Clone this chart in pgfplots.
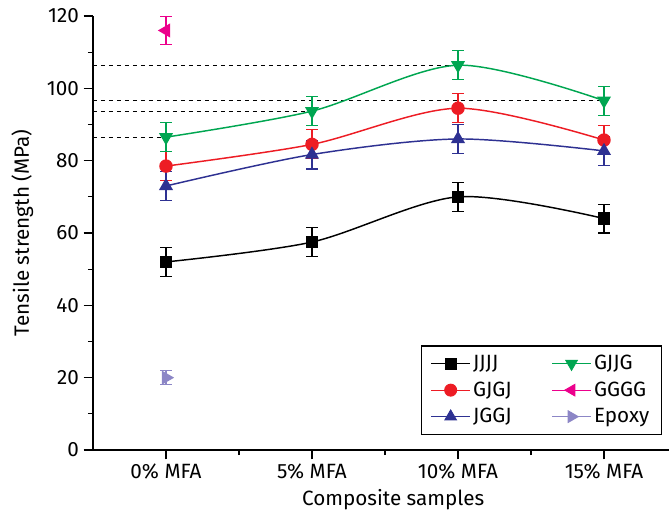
\documentclass[border=0pt]{standalone}
\usepackage{fontspec}
\setmainfont{Fira Sans}
\usepackage{pgfplots}
\pgfplotsset{compat=1.18}
\definecolor{cblack}{RGB}{0,0,0}
\definecolor{cred}{RGB}{237,28,36}
\definecolor{cblue}{RGB}{46,49,146}
\definecolor{cgreen}{RGB}{0,166,81}
\definecolor{cpink}{RGB}{236,0,140}
\definecolor{cpurple}{RGB}{140,134,198}
\newcommand{\fs}{\fontsize{15.5}{18}\selectfont}
\begin{document}
\begin{tikzpicture}
\useasboundingbox (-69.75pt,-51.75pt) rectangle (432pt,337.5pt);
\begin{axis}[
  at={(0pt,0pt)}, anchor=south west,
  scale only axis, width=438pt, height=325.5pt,
  xmin=-0.5, xmax=3.5, ymin=0, ymax=120,
  axis lines*=left,
  axis line style={line width=0.9pt},
  tick align=outside,
  every tick/.style={black, line width=0.9pt},
  major tick length=7pt, minor tick length=3.75pt,
  xtick={0,1,2,3},
  xticklabels={0\% MFA, 5\% MFA, 10\% MFA, 15\% MFA},
  minor xtick={0.5,1.5,2.5},
  ytick={0,20,...,120},
  minor ytick={10,30,...,110},
  /pgf/number format/assume math mode=true,
  tick label style={font=\fs},
  every axis y label/.style={at={(axis description cs:-0.121,0.5)}, rotate=90, anchor=center},
  every axis x label/.style={at={(axis description cs:0.514,0)}, anchor=center, yshift=-37.5pt},
  label style={font=\fs},
  ylabel={Tensile strength (MPa)},
  xlabel={Composite samples},
  legend columns=3, transpose legend,
  legend cell align=left,
  legend style={at={(rel axis cs:0.974,0.035)}, anchor=south east, draw=black, line width=0.9pt, font=\fs,
     /tikz/every even column/.append style={column sep=28pt}, row sep=3.5pt, inner xsep=7pt, inner ysep=5pt},
  legend image code/.code={\draw[mark repeat=2,mark phase=2, line width=0.7pt] plot coordinates {(0pt,0pt) (14.5pt,0pt) (29pt,0pt)};},
  error bars/y dir=both, error bars/y explicit,
  error bars/error bar style={line width=0.8pt},
  error bars/error mark options={line width=0.8pt, mark size=4.3pt, rotate=90},
]
% dashed reference lines
\addplot[forget plot, dashed, black, line width=0.7pt, mark=none, error bars/y dir=none] coordinates {(-0.5,86.5) (0,86.5)};
\addplot[forget plot, dashed, black, line width=0.7pt, mark=none, error bars/y dir=none] coordinates {(-0.5,93.7) (1,93.7)};
\addplot[forget plot, dashed, black, line width=0.7pt, mark=none, error bars/y dir=none] coordinates {(-0.5,106.4) (2,106.4)};
\addplot[forget plot, dashed, black, line width=0.7pt, mark=none, error bars/y dir=none] coordinates {(-0.5,96.6) (3,96.6)};

\addplot[cblack, line width=1.1pt, smooth, mark=square*, mark size=4pt, mark options={solid}] coordinates {
 (0,52) +- (0,4) (1,57.5) +- (0,4) (2,70) +- (0,4) (3,64) +- (0,4)};
\addlegendentry{JJJJ}
\addplot[cred, line width=1.1pt, smooth, mark=*, mark size=4.5pt] coordinates {
 (0,78.5) +- (0,4) (1,84.5) +- (0,4) (2,94.5) +- (0,4) (3,85.7) +- (0,4)};
\addlegendentry{GJGJ}
\addplot[cblue, line width=1.1pt, smooth, mark=triangle*, mark size=5pt] coordinates {
 (0,73) +- (0,4) (1,81.7) +- (0,4) (2,86) +- (0,4) (3,82.7) +- (0,4)};
\addlegendentry{JGGJ}
\addplot[cgreen, line width=1.1pt, smooth, mark=triangle*, mark size=5pt, mark options={rotate=180}] coordinates {
 (0,86.5) +- (0,4) (1,93.7) +- (0,4) (2,106.4) +- (0,4) (3,96.6) +- (0,4)};
\addlegendentry{GJJG}
\addplot[cpink, line width=1.1pt, mark=triangle*, mark size=5pt, mark options={rotate=90}] coordinates {
 (0,116) +- (0,4)};
\addlegendentry{GGGG}
\addplot[cpurple, line width=1.1pt, mark=triangle*, mark size=5pt, mark options={rotate=-90}] coordinates {
 (0,20) +- (0,2)};
\addlegendentry{Epoxy}
\end{axis}
\end{tikzpicture}
\end{document}
